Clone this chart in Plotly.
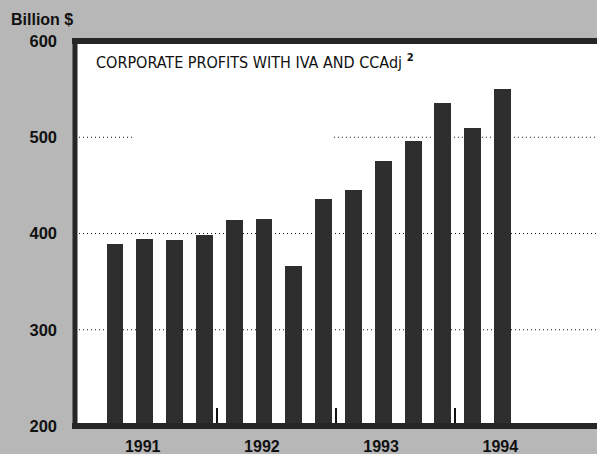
import plotly.graph_objects as go

# ---- data (billion $, quarterly, 1991Q1-1994Q2) ----
quarters = ["1991Q1", "1991Q2", "1991Q3", "1991Q4",
            "1992Q1", "1992Q2", "1992Q3", "1992Q4",
            "1993Q1", "1993Q2", "1993Q3", "1993Q4",
            "1994Q1", "1994Q2"]
profits = [389, 394, 393, 398, 414, 415, 366, 436, 445, 475, 496, 536, 510, 550]
year_labels = ["1991", "1992", "1993", "1994"]
y_ticks = [200, 300, 400, 500, 600]

x_pos = list(range(len(quarters)))
year_pos = [i * 4 + 0.93 for i in range(len(year_labels))]
divider_pos = [i * 4 + 3.42 for i in range(len(year_labels) - 1)]

INK = "#262626"
BG = "#b7b7b7"

fig = go.Figure()
fig.add_trace(go.Bar(
    x=x_pos, y=profits, width=0.57,
    marker=dict(color="#2e2e2e", line=dict(width=0)),
    hovertext=quarters, showlegend=False,
))

# dotted reference lines
dot = dict(color="#111111", width=1, dash="1px,3px")
for v in (300, 400):
    fig.add_shape(type="line", xref="paper", yref="y", x0=0, x1=1, y0=v, y1=v,
                  line=dot, layer="below")
fig.add_shape(type="line", xref="paper", yref="y", x0=0, x1=0.115, y0=500, y1=500,
              line=dot, layer="below")
fig.add_shape(type="line", xref="paper", yref="y", x0=0.496, x1=1, y0=500, y1=500,
              line=dot, layer="below")

# heavy frame (top, bottom, left) centred on the plot edges
ext = 3.0 / 522
fig.add_shape(type="line", xref="paper", yref="paper", x0=-ext, x1=1.01, y0=1, y1=1,
              line=dict(color=INK, width=6), layer="above")
fig.add_shape(type="line", xref="paper", yref="paper", x0=-ext, x1=1.01, y0=0, y1=0,
              line=dict(color=INK, width=6), layer="above")
fig.add_shape(type="line", xref="paper", yref="paper", x0=0, x1=0, y0=-0.006, y1=1.006,
              line=dict(color=INK, width=5), layer="above")

fig.add_annotation(
    text="CORPORATE PROFITS WITH IVA AND CCAdj <sup><b>2</b></sup>",
    xref="paper", yref="paper", x=0.036, y=0.947, xanchor="left", yanchor="middle",
    showarrow=False,
    font=dict(family="Liberation Sans Narrow, DejaVu Sans Condensed, Arial Narrow, sans-serif",
              size=16, color="#111111"),
)
fig.add_annotation(
    text="<b>Billion $</b>", xref="paper", yref="paper",
    x=-0.126, y=1.057, xanchor="left", yanchor="middle", showarrow=False,
    font=dict(family="Liberation Sans, Arial, sans-serif", size=16, color="#111111"),
)

fig.update_layout(
    width=597, height=454,
    margin=dict(l=75, r=0, t=41, b=28),
    paper_bgcolor=BG, plot_bgcolor="white",
    bargap=0,
    font=dict(family="Liberation Sans, Arial, sans-serif", color="#111111"),
    xaxis=dict(
        range=[-1.342, 16.174], showgrid=False, zeroline=False, showline=False,
        tickmode="array", tickvals=year_pos,
        ticktext=["<b>%s</b>" % t for t in year_labels], ticks="",
        ticklabelstandoff=9,
        tickfont=dict(size=16, family="Liberation Sans, Arial, sans-serif"),
        minor=dict(tickmode="array", tickvals=divider_pos, ticks="inside",
                   ticklen=18, tickwidth=1.5, tickcolor="#111111", showgrid=False),
    ),
    yaxis=dict(
        range=[200, 600], showgrid=False, zeroline=False, showline=False,
        tickmode="array", tickvals=y_ticks,
        ticktext=["<b>%d</b>" % t for t in y_ticks], ticks="",
        ticklabelstandoff=17,
        tickfont=dict(size=16.5, family="Liberation Sans, Arial, sans-serif"),
    ),
)

fig.write_html(
    "out.html",
    config={"displayModeBar": False},
    post_script="document.body.style.margin='0';document.body.style.overflow='hidden';",
)
